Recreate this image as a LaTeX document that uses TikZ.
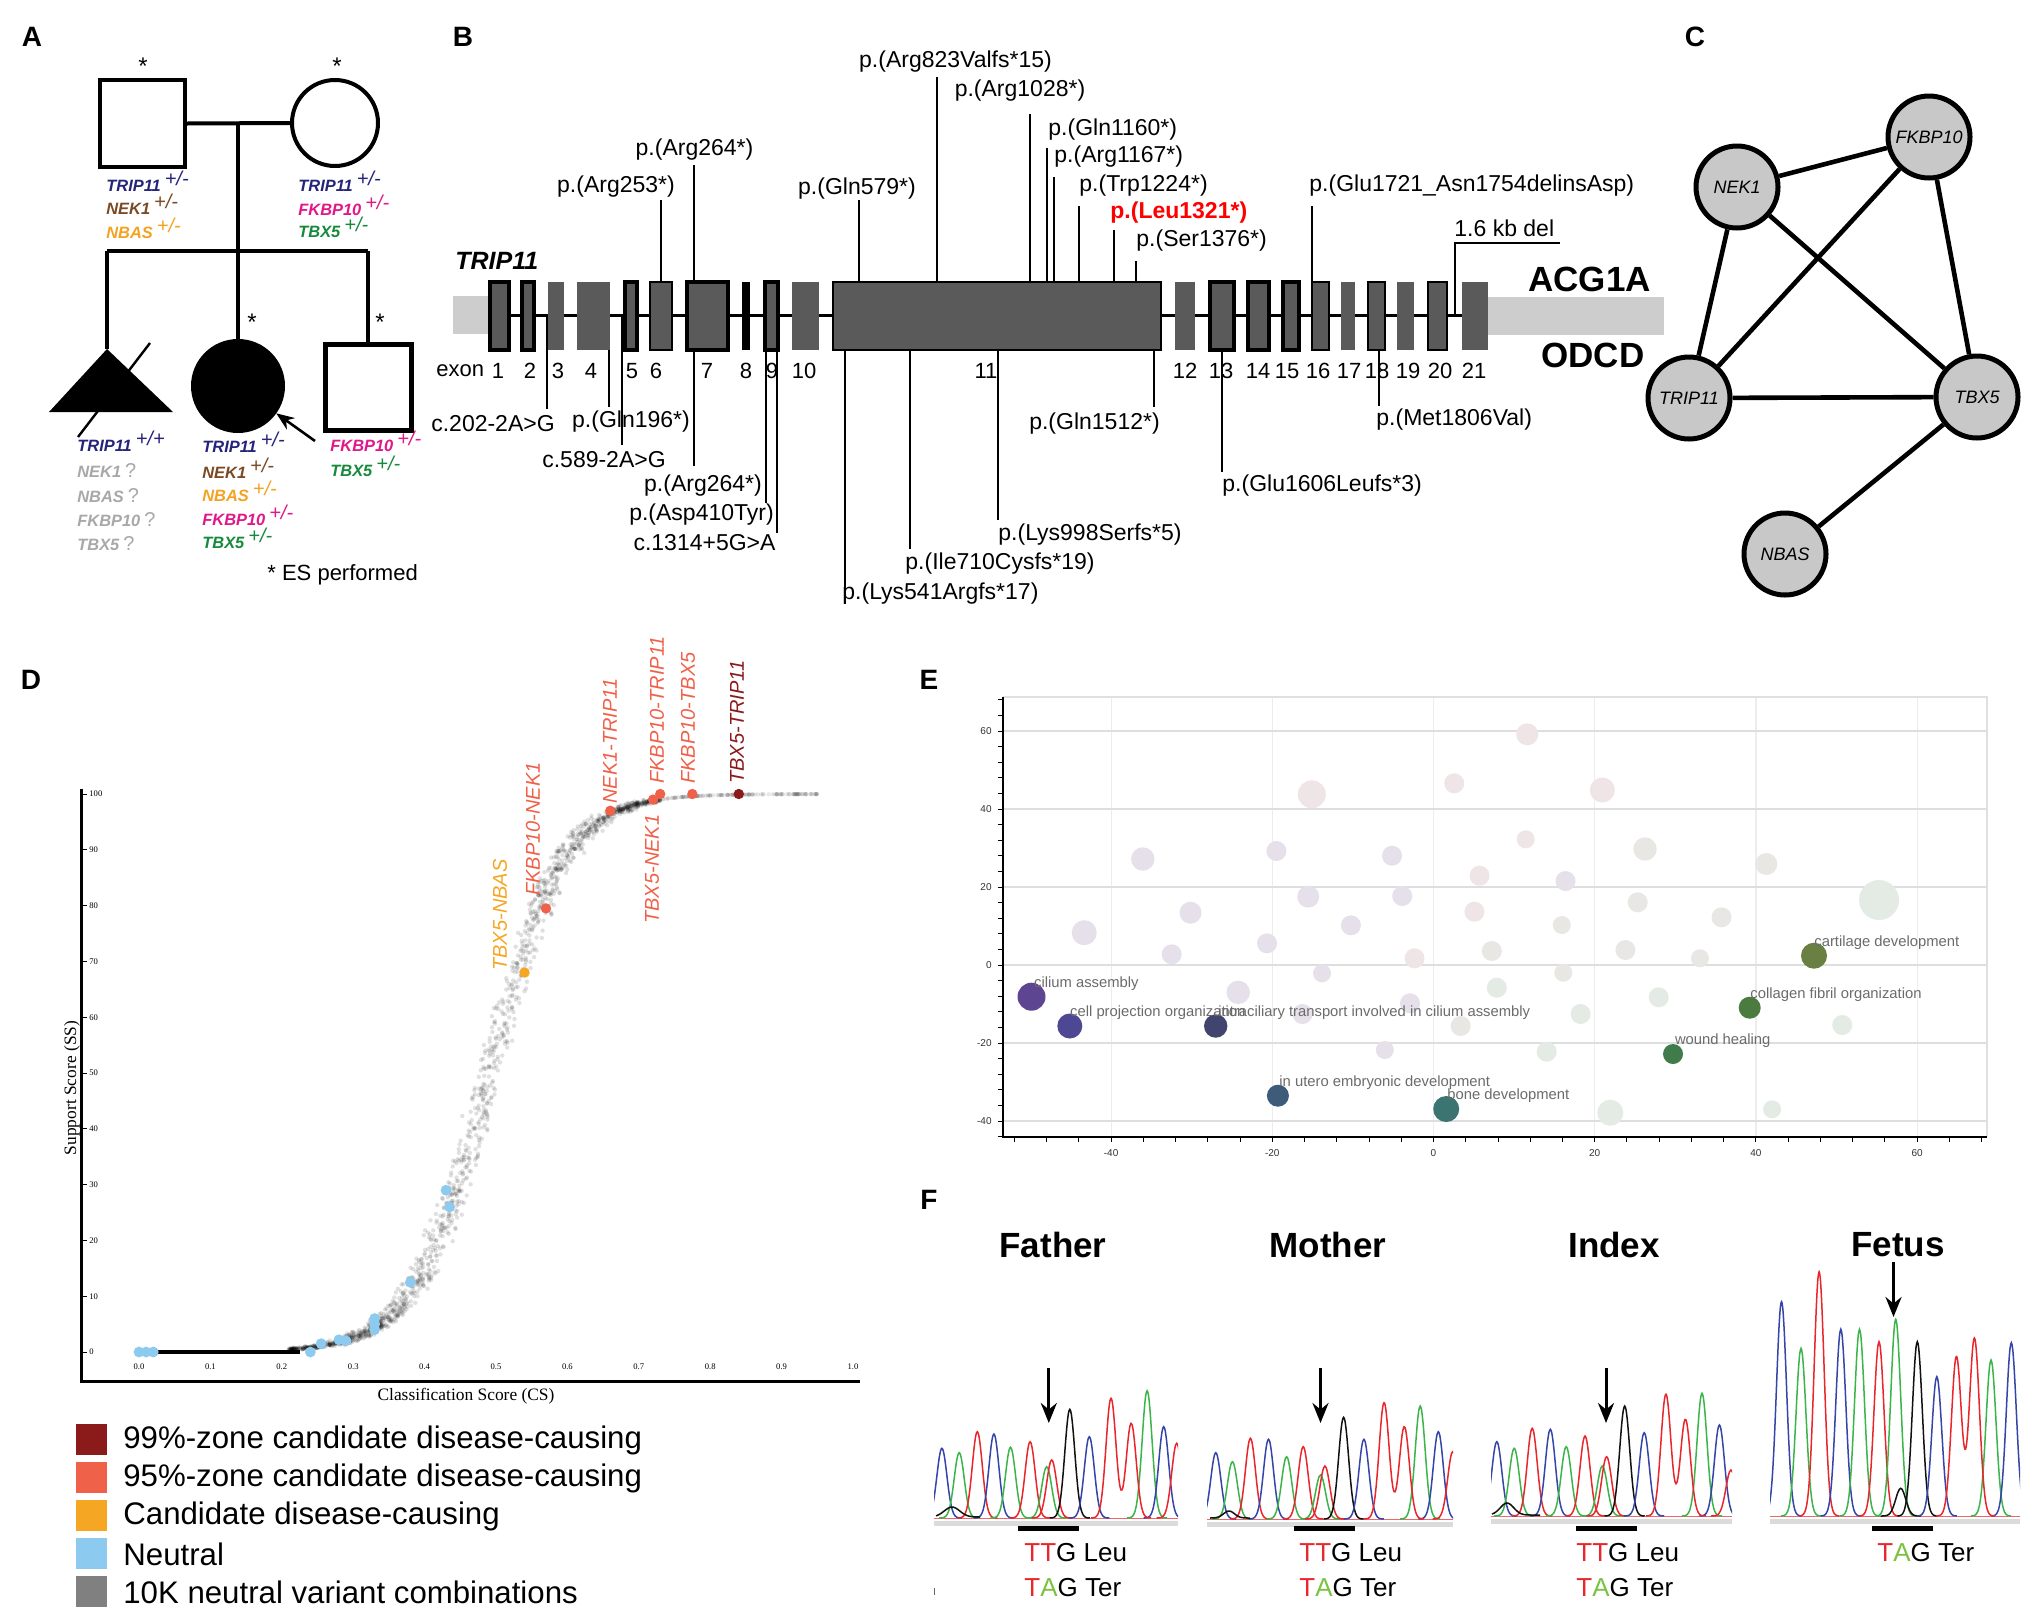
\documentclass[tikz,border=0pt]{standalone}
\usepackage{fontspec}
\setmainfont{Liberation Sans}
\newfontfamily\serifD{Liberation Serif}
\usetikzlibrary{arrows.meta}
\definecolor{ctrip}{HTML}{25237A}
\definecolor{cnek}{HTML}{7A4A24}
\definecolor{cnbas}{HTML}{F3A322}
\definecolor{cfkbp}{HTML}{E0188A}
\definecolor{ctbx}{HTML}{168A3C}
\definecolor{cunk}{HTML}{A8A8A8}
\definecolor{exg}{HTML}{5A5A5A}
\definecolor{utr}{HTML}{CDCDCD}
\definecolor{nodeg}{HTML}{C8C8C8}
\definecolor{dred}{HTML}{8B1A1A}
\definecolor{ored}{HTML}{F0614A}
\definecolor{corange}{HTML}{F5A623}
\definecolor{cblue}{HTML}{8CCBEF}
\definecolor{cgray}{HTML}{808080}
\definecolor{chA}{HTML}{3BB54A}
\definecolor{chC}{HTML}{3545A8}
\definecolor{chT}{HTML}{E8262B}
\definecolor{chG}{HTML}{111111}
\definecolor{tgreen}{HTML}{7CC242}
\definecolor{efL}{HTML}{E6E0EB}
\definecolor{efP}{HTML}{EFE4E6}
\definecolor{efG}{HTML}{E4EBE4}
\definecolor{efN}{HTML}{E9E7E4}
\definecolor{bc1}{HTML}{5E4591}
\definecolor{bc2}{HTML}{4E4794}
\definecolor{bc3}{HTML}{41446F}
\definecolor{bc4}{HTML}{3F5B7A}
\definecolor{bc5}{HTML}{3C7471}
\definecolor{bc6}{HTML}{3F7B4B}
\definecolor{bc7}{HTML}{4B7B3F}
\definecolor{bc8}{HTML}{6A8043}
\newcommand\gty[3]{\textcolor{#1}{\bfseries\itshape #2\hspace{2pt}\raisebox{3pt}{\mdseries\fontsize{10}{10}\selectfont #3}}}
\newcommand\gtq[1]{\textcolor{cunk}{\bfseries\itshape #1\hspace{2pt}{\mdseries\upshape\fontsize{10}{10}\selectfont ?}}}
\begin{document}
\begin{tikzpicture}[x=0.5pt,y=-0.5pt,
  panel/.style={font=\bfseries\fontsize{14}{14}\selectfont, inner sep=0pt},
  ped/.style={line width=2pt},
  glab/.style={anchor=base west, inner sep=0pt, font=\fontsize{8.2}{8.2}\selectfont},
  ast/.style={inner sep=0pt, font=\fontsize{12}{12}\selectfont},
  mut/.style={line width=1.25pt},
  mlab/.style={inner sep=0pt, font=\fontsize{11.5}{12}\selectfont},
  exnum/.style={inner sep=0pt, font=\fontsize{11}{11}\selectfont},
  gnode/.style={circle, draw, fill=nodeg, line width=2.5pt, minimum size=41pt, inner sep=0pt, font=\itshape\fontsize{9}{9}\selectfont},
  dlab/.style={rotate=90, anchor=west, inner sep=0pt, font=\itshape\fontsize{10}{10}\selectfont},
  elab/.style={anchor=west, inner sep=0pt, font=\fontsize{7.4}{7.4}\selectfont, text=black!58},
  ftitle/.style={inner sep=0pt, font=\bfseries\fontsize{17.5}{17.5}\selectfont},
  codon/.style={anchor=west, inner sep=0pt, font=\fontsize{13}{13}\selectfont},
  farrow/.style={line width=1.5pt, -{Stealth[length=10pt,width=8pt]}},
  legtxt/.style={anchor=west, inner sep=0pt, font=\fontsize{15.6}{15.6}\selectfont},
  trace/.style={line width=0.75pt}
]
\useasboundingbox (0,0) rectangle (2033,1617);
\fill[white] (0,0) rectangle (2033,1617);

%% ---------------- Panel A ----------------
\node[panel] (lA) at (32,37) {A};
\node[draw, ped, minimum width=42.5pt, minimum height=43.5pt, inner sep=0pt] (fa) at (142.5,123.5) {};
\node[circle, draw, ped, minimum size=43pt, inner sep=0pt] (mo) at (335,123) {};
\node[ast] (afa) at (143,66) {*};
\node[ast] (amo) at (337,66) {*};
\coordinate (mar) at (238,123);
\draw[ped] (fa.east) -- (mo.west);
\node[circle, fill=black, draw, ped, minimum size=45pt, inner sep=0pt] (ix) at (238,386) {};
\draw[ped] (mar) -- (ix.north);
\coordinate (sl) at (107,251);
\coordinate (sr) at (368,251);
\draw[ped] (sl) -- (sr);
\coordinate (fe) at (107,349);
\fill (fe) -- (173,412) -- (49,412) -- cycle;
\draw[ped] (sl) -- (fe);
\draw[line width=1.2pt] (150,343) -- (78,437);
\node[draw, line width=2.5pt, minimum size=43pt, inner sep=0pt] (br) at (368,387) {};
\draw[ped] (sr) -- (br.north);
\node[ast] (aix) at (252,322) {*};
\node[ast] (abr) at (380,322) {*};
\coordinate (arrS) at (315,441);
\draw[line width=1.3pt, -{Stealth[length=9pt,width=7pt]}] (arrS) -- (ix);
% genotype labels
\node[glab] (f1) at (106,191) {\gty{ctrip}{TRIP11}{+/-}};
\node[glab] (f2) at (106,214) {\gty{cnek}{NEK1}{+/-}};
\node[glab] (f3) at (106,238) {\gty{cnbas}{NBAS}{+/-}};
\node[glab] (m1) at (298,191) {\gty{ctrip}{TRIP11}{+/-}};
\node[glab] (m2) at (298,215) {\gty{cfkbp}{FKBP10}{+/-}};
\node[glab] (m3) at (298,237) {\gty{ctbx}{TBX5}{+/-}};
\node[glab] (e1) at (77,451) {\gty{ctrip}{TRIP11}{+/+}};
\node[glab] (e2) at (77,477) {\gtq{NEK1}};
\node[glab] (e3) at (77,502) {\gtq{NBAS}};
\node[glab] (e4) at (77,526) {\gtq{FKBP10}};
\node[glab] (e5) at (77,550) {\gtq{TBX5}};
\node[glab] (i1) at (202,452) {\gty{ctrip}{TRIP11}{+/-}};
\node[glab] (i2) at (202,478) {\gty{cnek}{NEK1}{+/-}};
\node[glab] (i3) at (202,501) {\gty{cnbas}{NBAS}{+/-}};
\node[glab] (i4) at (202,525) {\gty{cfkbp}{FKBP10}{+/-}};
\node[glab] (i5) at (202,548) {\gty{ctbx}{TBX5}{+/-}};
\node[glab] (b1) at (330,451) {\gty{cfkbp}{FKBP10}{+/-}};
\node[glab] (b2) at (330,476) {\gty{ctbx}{TBX5}{+/-}};
\node[anchor=west, inner sep=0pt, font=\fontsize{11}{11}\selectfont] (es) at (267,575) {* ES performed};

%% ---------------- Panel B ----------------
\node[panel] (lB) at (463,37) {B};
\node[anchor=west, inner sep=0pt, font=\bfseries\itshape\fontsize{12.5}{12.5}\selectfont] (gname) at (455,261) {TRIP11};
\fill[utr] (453,296) rectangle (490,334);
\fill[utr] (1488,297) rectangle (1664,335);
\draw[line width=1.5pt] (490,315) -- (1488,315);
\foreach \xa/\xb in {490/509,522/534,625/637,687/728,765/778,1210/1234,1248/1269,1283/1299}
  \draw[fill=exg, draw=black, line width=2pt] (\xa,282) rectangle (\xb,350);
\foreach \xa/\xb in {650/672,833/1161,1312/1329,1368/1385,1428/1447}
  \draw[fill=exg, draw=black, line width=0.7pt] (\xa,282) rectangle (\xb,350);
\foreach \xa/\xb in {548/564,577/610,792/819,1175/1195,1341/1355,1397/1414,1462/1488}
  \fill[exg] (\xa,282) rectangle (\xb,350);
\fill[black] (742,282) rectangle (750,350);
% exon numbers
\node[exnum, anchor=west] (exw) at (436,371) {exon};
\foreach \nx/\nn in {498/1,530/2,558/3,591/4,632/5,656/6,707/7,746/8,772/9,804/10,986/11,1185/12,1221/13,1258/14,1287/15,1318/16,1349/17,1377/18,1408/19,1440/20,1474/21}
  \node[exnum] at (\nx,371) {\nn};
% mutations above
\draw[mut] (661,200) -- (661,282);  \node[mlab] (u1) at (616,187) {p.(Arg253*)};
\draw[mut] (694,165) -- (694,282);  \node[mlab] (u2) at (694.5,150) {p.(Arg264*)};
\draw[mut] (859,200) -- (859,282);  \node[mlab] (u3) at (857,189) {p.(Gln579*)};
\draw[mut] (937,77) -- (937,282);   \node[mlab] (u4) at (955.5,62) {p.(Arg823Valfs*15)};
\draw[mut] (1030,114) -- (1030,282); \node[mlab] (u5) at (1020,91) {p.(Arg1028*)};
\draw[mut] (1047,148) -- (1047,282); \node[mlab, anchor=west] (u6) at (1048,130) {p.(Gln1160*)};
\draw[mut] (1054,177) -- (1054,282); \node[mlab, anchor=west] (u7) at (1054,157) {p.(Arg1167*)};
\draw[mut] (1079,206) -- (1079,282); \node[mlab, anchor=west] (u8) at (1079,186) {p.(Trp1224*)};
\draw[mut] (1114,230) -- (1114,282); \node[mlab, anchor=west, text=red, font=\bfseries\fontsize{11.5}{12}\selectfont] (u9) at (1110,213) {p.(Leu1321*)};
\draw[mut] (1136,261) -- (1136,282); \node[mlab, anchor=west] (u10) at (1136,241) {p.(Ser1376*)};
\draw[mut] (1312,206) -- (1312,282); \node[mlab, anchor=west] (u11) at (1309,186) {p.(Glu1721\_Asn1754delinsAsp)};
\draw[mut] (1455,315) -- (1455,243) -- (1560,243); \node[mlab, anchor=west] (u12) at (1454,228) {1.6 kb del};
% mutations below
\draw[mut] (547,315) -- (547,409);  \node[mlab] (d1) at (493,424) {c.202-2A>G};
\draw[mut] (609,350) -- (609,407);  \node[mlab] (d2) at (631,422) {p.(Gln196*)};
\draw[mut] (622,315) -- (622,445);  \node[mlab] (d3) at (604,460) {c.589-2A>G};
\draw[mut] (694,350) -- (694,466);  \node[mlab] (d4) at (703,486) {p.(Arg264*)};
\draw[mut] (766,350) -- (766,503);  \node[mlab] (d5) at (701.5,515) {p.(Asp410Tyr)};
\draw[mut] (777,350) -- (777,533);  \node[mlab] (d6) at (704.5,543) {c.1314+5G>A};
\draw[mut] (845,350) -- (845,604);  \node[mlab, anchor=west] (d7) at (842,594) {p.(Lys541Argfs*17)};
\draw[mut] (910,350) -- (910,549);  \node[mlab, anchor=west] (d8) at (905,564) {p.(Ile710Cysfs*19)};
\draw[mut] (998,350) -- (998,520);  \node[mlab, anchor=west] (d9) at (998,535) {p.(Lys998Serfs*5)};
\draw[mut] (1154,350) -- (1154,407); \node[mlab] (d10) at (1094.5,424) {p.(Gln1512*)};
\draw[mut] (1222,350) -- (1222,472); \node[mlab, anchor=west] (d11) at (1222,486) {p.(Glu1606Leufs*3)};
\draw[mut] (1379,350) -- (1379,406); \node[mlab, anchor=west] (d12) at (1376,420) {p.(Met1806Val)};
\node[inner sep=0pt, font=\bfseries\fontsize{17.5}{17.5}\selectfont] (acg) at (1589.5,279) {ACG1A};
\node[inner sep=0pt, font=\bfseries\fontsize{17.5}{17.5}\selectfont] (odcd) at (1593,355) {ODCD};

%% ---------------- Panel C ----------------
\node[panel] (lC) at (1695,37) {C};
\node[gnode] (cF) at (1929,137) {FKBP10};
\node[gnode] (cN) at (1737,187) {NEK1};
\node[gnode] (cT) at (1689,398) {TRIP11};
\node[gnode] (cX) at (1977,397) {TBX5};
\node[gnode] (cB) at (1785,554) {NBAS};
\begin{scope}[line width=2.3pt]
\draw (cN) -- (cF);
\draw (cN) -- (cT);
\draw (cN) -- (cX);
\draw (cF) -- (cT);
\draw (cF) -- (cX);
\draw (cT) -- (cX);
\draw (cX) -- (cB);
\end{scope}

%% ---------------- Panel D ----------------
\node[panel] (lD) at (31,680) {D};
\pgfmathsetseed{7}
\foreach \i in {1,...,1500}{
  \pgfmathsetmacro\cs{0.21+0.52*rnd}
  \pgfmathsetmacro\cj{\cs+0.012*(rand+rand)}
  \pgfmathsetmacro\ss{100/(1+exp(-(\cj-0.49)/0.052))}
  \fill[black, opacity=0.12] ({139+\cs*714},{1352-\ss*5.58}) circle (1.1pt);
}
\foreach \i in {1,...,180}{
  \pgfmathsetmacro\cs{0.62+0.33*rnd}
  \pgfmathsetmacro\ss{100/(1+exp(-(\cs-0.49)/0.052))}
  \fill[black, opacity=0.09] ({139+\cs*714},{1352-\ss*5.58}) circle (1.1pt);
}
\draw[line width=2pt] (153,1352) -- (300,1352);
\draw[line width=1.5pt] (81,789) -- (81,1381) -- (860,1381);
\foreach \v in {0,10,...,100}{
  \draw[line width=0.4pt] (81,{1352-\v*5.58}) -- (87,{1352-\v*5.58});
  \node[anchor=west, inner sep=0pt, font=\serifD\fontsize{4.3}{4.3}\selectfont] at (89,{1352-\v*5.58}) {\v};
}
\foreach \v/\t in {0/0.0,0.1/0.1,0.2/0.2,0.3/0.3,0.4/0.4,0.5/0.5,0.6/0.6,0.7/0.7,0.8/0.8,0.9/0.9,1/1.0}
  \node[inner sep=0pt, font=\serifD\fontsize{4.3}{4.3}\selectfont] at ({139+\v*714},1367) {\t};
\node[inner sep=0pt, font=\serifD\fontsize{8.7}{9}\selectfont] (dxl) at (466,1396) {Classification Score (CS)};
\node[rotate=90, inner sep=0pt, font=\serifD\fontsize{8.7}{9}\selectfont] (dyl) at (72,1088) {Support Score (SS)};
\foreach \c/\s in {0/0,0.01/0,0.02/0,0.24/0,0.255/1.5,0.28/2.2,0.29/2,0.33/6,0.33/4,0.33/5,0.38/12.5,0.43/29,0.435/26}
  \fill[cblue] ({139+\c*714},{1352-\s*5.58}) circle (2.7pt);
\fill[corange] ({139+0.54*714},{1352-68*5.58}) circle (2.6pt);
\foreach \c/\s in {0.57/79.5,0.66/97,0.72/99,0.73/100,0.775/100}
  \fill[ored] ({139+\c*714},{1352-\s*5.58}) circle (2.6pt);
\fill[dred] ({139+0.84*714},{1352-100*5.58}) circle (2.6pt);
\node[dlab, text=corange] (p1) at (500,971) {TBX5-NBAS};
\node[dlab, text=ored] (p2) at (533,896) {FKBP10-NEK1};
\node[dlab, text=ored] (p3) at (610,804) {NEK1-TRIP11};
\node[dlab, text=ored] (p4) at (652,924) {TBX5-NEK1};
\node[dlab, text=ored] (p5) at (657,784) {FKBP10-TRIP11};
\node[dlab, text=ored] (p6) at (688,784) {FKBP10-TBX5};
\node[dlab, text=dred] (p7) at (737,784) {TBX5-TRIP11};
% legend
\foreach \ly/\lc/\lt in {1440/dred/99\%-zone candidate disease-causing,1478/ored/95\%-zone candidate disease-causing,1516/corange/Candidate disease-causing,1554/cblue/Neutral,1592/cgray/10K neutral variant combinations}{
  \fill[\lc] (76,\ly-16) rectangle (107,\ly+15);
  \node[legtxt] at (123,\ly) {\lt};
}

%% ---------------- Panel E ----------------
\node[panel] (lE) at (929,680) {E};
\foreach \v in {-40,-20,0,20,40,60}
  \draw[black!7, line width=0.6pt] ({1433.5+\v*8.06},697) -- ({1433.5+\v*8.06},1137);
\foreach \v in {60,40,20,0,-20,-40}{
  \draw[black!13, line width=1.2pt] (1003,{965-\v*3.9}) -- (1987,{965-\v*3.9});
  \node[anchor=east, inner sep=0pt, font=\fontsize{5}{5}\selectfont, text=black!80] at (992,{965-\v*3.9}) {\v};
}
\foreach \v in {-40,-20,0,20,40,60}
  \node[inner sep=0pt, font=\fontsize{5}{5}\selectfont, text=black!80] at ({1433.5+\v*8.06},1153) {\v};
\draw[black!12, line width=0.8pt] (1003,697) -- (1987,697) -- (1987,1137);
\foreach \v in {-52,-48,...,68} \draw[line width=0.5pt] ({1433.5+\v*8.06},1137) -- ({1433.5+\v*8.06},1142);
\foreach \v in {-44,-40,...,68} \draw[line width=0.5pt] (1003,{965-\v*3.9}) -- (998,{965-\v*3.9});
\draw[line width=1.2pt] (1003,697) -- (1003,1137) -- (1987,1137);
\foreach \bx/\by/\br/\bc in {1527.2/734.3/11/efP,1454.2/783.3/10/efP,1311.8/794.3/14/efP,1602.3/790/12.5/efP,1525.7/839.3/9/efP,1645/849/11.7/efN,1142.8/859/11.7/efL,1276.4/851/10/efL,1392/855.7/10/efL,1766.3/864/11/efN,1479.5/875.7/10/efP,1565.5/881/10/efL,1879/900/20/efG,1308.2/896.7/11/efL,1402.2/896/10/efL,1637.7/902.3/10/efN,1190.5/912.7/11/efL,1474.4/911.7/10/efP,1721.5/917.3/10/efN,1084.2/932.7/12.5/efL,1350.9/925.3/10/efL,1561.8/925/9/efN,1267/943.3/10/efL,1171.7/954.3/10/efL,1414.5/958.3/10/efP,1491.8/951/10/efN,1625.4/950/10/efN,1699.9/958.3/9/efN,1322/973.3/9/efL,1563.3/972.7/9/efN,1238.2/992.3/11.7/efL,1496.8/987.7/10/efG,1658.7/997.3/10/efG,1410/1003.3/10/efL,1302.5/1014/10/efL,1580.6/1014/10/efG,1460.7/1026/10/efN,1842.2/1025/10/efG,1384.8/1050/9/efL,1546.7/1051.7/10/efG,1610.3/1112.7/13/efG,1772.1/1109.3/9/efG}
  \fill[\bc] (\bx,\by) circle[radius={\br*0.5pt}];
\fill[bc1] (1031.5,996.7) circle (7pt);
\fill[bc2] (1069.8,1026) circle (6.25pt);
\fill[bc3] (1215.7,1026) circle (5.85pt);
\fill[bc4] (1277.9,1095.7) circle (5.5pt);
\fill[bc5] (1446.2,1109) circle (6.5pt);
\fill[bc6] (1673,1054) circle (5pt);
\fill[bc7] (1749.7,1007.7) circle (5.5pt);
\fill[bc8] (1814,955.7) circle (6.5pt);
\node[elab] (t1) at (1033.7,983.3) {cilium assembly};
\node[elab] (t2) at (1069.8,1012.7) {cell projection organization};
\node[elab] (t3) at (1218,1012.7) {intraciliary transport involved in cilium assembly};
\node[elab] (t4) at (1279,1082.3) {in utero embryonic development};
\node[elab] (t5) at (1447,1095.7) {bone development};
\node[elab] (t6) at (1674.6,1040.7) {wound healing};
\node[elab] (t7) at (1750,994.3) {collagen fibril organization};
\node[elab] (t8) at (1814,942.3) {cartilage development};

%% ---------------- Panel F ----------------
\node[panel] (lF) at (929,1200) {F};
\node[ftitle] (tf1) at (1053,1245) {Father};
\node[ftitle] (tf2) at (1328,1245) {Mother};
\node[ftitle] (tf3) at (1614,1245) {Index};
\node[ftitle] (tf4) at (1898,1245) {Fetus};
% baselines
\foreach \xa/\xb/\yb in {934/1178/1518,1207/1453/1519,1491/1732/1516,1770/2020/1516}{
  \draw[black!14, line width=2.5pt] (\xa,\yb+5) -- (\xb,\yb+5);
  \draw[chT!70, line width=0.5pt] (\xa,\yb) -- (\xb,\yb);
}
\begin{scope}
\clip (934,1250) rectangle (1178,1525);
\foreach \px/\ph/\pc in {941.9/69.7/chC,959.2/65.3/chA,977.3/86.3/chT,993.9/84/chC,1010.5/70.7/chA,1030.1/76.3/chT,1046.7/51.3/chA,1051.7/58/chT,1069.8/108.7/chG,1089.3/81.3/chC,1147.1/127.3/chA,1163.7/91.3/chC,1176.7/74.7/chT}
  \draw[\pc, trace] plot[domain=-20:20, samples=31, smooth] ({\px+\x},{1518-\ph*exp(-(\x*\x)/50)});
\draw[chT, trace] plot[domain=1091:1151, samples=61, smooth] (\x,{1518-119.7*exp(-((\x-1111)*(\x-1111))/50)-94.7*exp(-((\x-1131.2)*(\x-1131.2))/50)});
\draw[chG, trace] plot[domain=936:980, samples=31, smooth] (\x,{1517-10*exp(-((\x-952)*(\x-952))/120)});
\end{scope}
\begin{scope}
\clip (1207,1250) rectangle (1453,1525);
\foreach \px/\ph/\pc in {1215.8/66.3/chC,1232.4/57.3/chA,1250.4/80.7/chT,1268.5/79.7/chC,1286.6/62.3/chA,1303.2/72.3/chT,1320.5/44/chA,1324.9/53/chT,1343.6/101.7/chG,1363.9/79.7/chC,1420.2/113/chA,1438.3/87.3/chC,1452.7/67.3/chT}
  \draw[\pc, trace] plot[domain=-20:20, samples=31, smooth] ({\px+\x},{1519-\ph*exp(-(\x*\x)/50)});
\draw[chT, trace] plot[domain=1364:1424, samples=61, smooth] (\x,{1519-116.3*exp(-((\x-1384.1)*(\x-1384.1))/50)-92.3*exp(-((\x-1404.3)*(\x-1404.3))/50)});
\draw[chG, trace] plot[domain=1210:1250, samples=31, smooth] (\x,{1518-7*exp(-((\x-1229)*(\x-1229))/60)});
\end{scope}
\begin{scope}
\clip (1491,1250) rectangle (1732,1525);
\foreach \px/\ph/\pc in {1496.8/74.3/chC,1514.2/67.7/chA,1532.2/87.7/chT,1550.3/86.7/chC,1566.2/69.3/chA,1585/80/chT,1602.3/50/chA,1606.6/59.3/chT,1624.7/110/chG,1644.2/83.3/chC,1702/122.7/chA,1719.4/91/chC,1730.9/46/chT}
  \draw[\pc, trace] plot[domain=-20:20, samples=31, smooth] ({\px+\x},{1516-\ph*exp(-(\x*\x)/50)});
\draw[chT, trace] plot[domain=1646:1706, samples=61, smooth] (\x,{1516-121.7*exp(-((\x-1665.9)*(\x-1665.9))/50)-96.7*exp(-((\x-1685.4)*(\x-1685.4))/50)});
\draw[chG, trace] plot[domain=1492:1540, samples=31, smooth] (\x,{1515-12*exp(-((\x-1507)*(\x-1507))/90)});
\end{scope}
\begin{scope}
\clip (1770,1250) rectangle (2020,1525);
\foreach \px/\ph/\pc in {1781.5/214.3/chC,1801/167.7/chA,1819.1/244.3/chT,1840.8/186.7/chC,1859.5/186.7/chA,1879/174.3/chT,1895.7/196.7/chA,1900.7/27.7/chG,1917.3/174.3/chG,1936.8/139.3/chC,1991/156/chA,2011.3/173.3/chC}
  \draw[\pc, trace] plot[domain=-20:20, samples=31, smooth] ({\px+\x},{1516-\ph*exp(-(\x*\x)/50)});
\draw[chT, trace] plot[domain=1936:1995, samples=61, smooth] (\x,{1516-159.3*exp(-((\x-1956.4)*(\x-1956.4))/50)-177.7*exp(-((\x-1974.4)*(\x-1974.4))/50)});
\end{scope}
% arrows
\coordinate (fa1) at (1048.8,1368); \coordinate (fa2) at (1048.8,1423);
\coordinate (ma1) at (1320.5,1368); \coordinate (ma2) at (1320.5,1423);
\coordinate (ia1) at (1606,1368);   \coordinate (ia2) at (1606,1423);
\coordinate (ta1) at (1893.5,1262); \coordinate (ta2) at (1893.5,1317);
\draw[farrow] (fa1) -- (fa2);
\draw[farrow] (ma1) -- (ma2);
\draw[farrow] (ia1) -- (ia2);
\draw[farrow] (ta1) -- (ta2);
% codon bars
\draw[line width=2.2pt] (1017.8,1528.3) -- (1079.2,1528.3);
\draw[line width=2.2pt] (1293.8,1528.3) -- (1355.2,1528.3);
\draw[line width=2.2pt] (1575.6,1528.3) -- (1637,1528.3);
\draw[line width=2.2pt] (1871.8,1528.3) -- (1933.2,1528.3);
\node[codon] (c1) at (1024,1553) {\textcolor{chT}{TT}G Leu};
\node[codon] (c2) at (1024,1588) {\textcolor{chT}{T}\textcolor{tgreen}{A}G Ter};
\node[codon] (c3) at (1299,1553) {\textcolor{chT}{TT}G Leu};
\node[codon] (c4) at (1299,1588) {\textcolor{chT}{T}\textcolor{tgreen}{A}G Ter};
\node[codon] (c5) at (1576,1553) {\textcolor{chT}{TT}G Leu};
\node[codon] (c6) at (1576,1588) {\textcolor{chT}{T}\textcolor{tgreen}{A}G Ter};
\node[codon] (c7) at (1877,1553) {\textcolor{chT}{T}\textcolor{tgreen}{A}G Ter};
\draw[line width=0.6pt, black!60] (934.7,1588) -- (934.7,1595);
\end{tikzpicture}
\end{document}
